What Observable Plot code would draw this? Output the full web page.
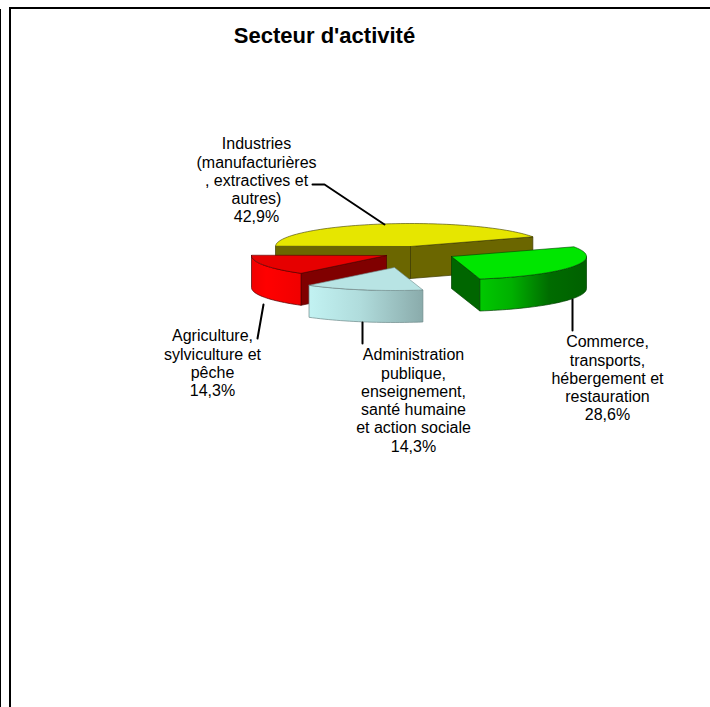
<!DOCTYPE html>
<html lang="fr">
<head>
<meta charset="utf-8">
<script src="https://cdn.jsdelivr.net/npm/d3@7"></script>
<script src="https://cdn.jsdelivr.net/npm/@observablehq/plot@0.6"></script>
<style>html,body{margin:0;padding:0;background:#fff}</style>
</head>
<body>
<script>
// Data
const categories = [
  "Industries\n(manufacturières\n, extractives et\nautres)",
  "Agriculture,\nsylviculture et\npêche",
  "Administration\npublique,\nenseignement,\nsanté humaine\net action sociale",
  "Commerce,\ntransports,\nhébergement et\nrestauration"
];
const shares = [42.9, 14.3, 14.3, 28.6];
const chartTitle = "Secteur d'activité";

// Styles
const topColors  = ["#e6e600", "#e60000", "#b8e4e4", "#00e600"];
const sideColors = ["#6b6600", "url(#sideRed)", "url(#sideBlue)", "url(#sideGreen)"];
const wallColors = ["#6b6600", "#800000", "#8fb0b0", "#006600"];
const edgeColors = ["#3c3a00", "#500000", "#6f8a8a", "#004000"];

// Layout of the exploded pie (in picture units)
const centres = [[410, 246], [386, 255], [394, 267], [451, 256]];
const labelAnchors = [[256, 136], [212, 328], [413, 347], [607, 334]];
const leaders = [
  [[312, 184], [324, 184], [384, 224]],
  [[263, 304], [257, 338]],
  [[362, 322], [362, 343]],
  [[572, 299], [572, 330]]
];
const rx = 135, ry = 23, depth = 32, startAngle = 25;

const rad = d => d * Math.PI / 180;
const onRim = (c, a, dy = 0) => ({x: c[0] + rx * Math.cos(rad(a)), y: c[1] - ry * Math.sin(rad(a)) + dy});
const arcPts = (c, a0, a1, dy = 0) => {
  const n = Math.max(2, Math.ceil(Math.abs(a1 - a0) / 2));
  return d3.range(n + 1).map(i => onRim(c, a0 + (a1 - a0) * i / n, dy));
};
const close = pts => [...pts, pts[0]];

const total = d3.sum(shares);
let running = startAngle;
const sliceMarks = [];
const wallsAndSides = (i, a0, a1) => {
  const c = centres[i];
  const apex = {x: c[0], y: c[1]}, apexLow = {x: c[0], y: c[1] + depth};
  const out = [];
  const wall = a => {
    const rim = onRim(c, a), low = onRim(c, a, depth);
    out.push(Plot.line(close([apex, rim, low, apexLow]), {x: "x", y: "y", fill: wallColors[i], stroke: edgeColors[i], strokeWidth: 0.7}));
  };
  if (Math.cos(rad(a0)) > 0) wall(a0);
  if (Math.cos(rad(a1)) < 0) wall(a1);
  // Visible outer rim: the part on the front half of the ellipse
  const s = Math.max(a0, 180), e = Math.min(a1, 360);
  if (e > s) {
    const pts = [...arcPts(c, s, e), ...arcPts(c, e, s, depth)];
    out.push(Plot.line(close(pts), {x: "x", y: "y", fill: sideColors[i], stroke: edgeColors[i], strokeWidth: 0.7}));
  }
  const top = [{x: c[0], y: c[1]}, ...arcPts(c, a0, a1)];
  out.push(Plot.line(close(top), {x: "x", y: "y", fill: topColors[i], stroke: edgeColors[i], strokeWidth: 0.6}));
  return out;
};
const spans = shares.map(v => { const a0 = running; running += v / total * 360; return [a0, running]; });
for (const i of [0, 3, 1, 2]) sliceMarks.push(...wallsAndSides(i, spans[i][0], spans[i][1]));

const fmt = v => v.toFixed(1).replace(".", ",") + "%";
const labels = categories.map((c, i) => ({x: labelAnchors[i][0], y: labelAnchors[i][1], text: c + "\n" + fmt(shares[i])}));

const defs = () => {
  const g = d3.create("svg:defs");
  const grad = (id, stops) => {
    const lg = g.append("linearGradient").attr("id", id);
    stops.forEach(([o, col]) => lg.append("stop").attr("offset", o).attr("stop-color", col));
  };
  grad("sideRed", [[0, "#f00000"], [0.3, "#ff0000"], [1, "#f00000"]]);
  grad("sideBlue", [[0, "#c2f2f2"], [0.45, "#b0dcdc"], [1, "#8aabab"]]);
  grad("sideGreen", [[0, "#00c800"], [0.3, "#00b000"], [0.65, "#006c00"], [1, "#006000"]]);
  return g.node();
};

const chart = Plot.plot({
  width: 710,
  height: 707,
  margin: 0,
  x: {domain: [0, 710], range: [0, 710], axis: null},
  y: {domain: [0, 707], range: [0, 707], axis: null},
  marks: [
    defs,
    // Frame
    Plot.ruleX([0], {y1: 9, y2: 707, stroke: "#000", strokeWidth: 1}),
    Plot.ruleX([9.5], {y1: 7, y2: 707, stroke: "#000", strokeWidth: 2}),
    Plot.ruleY([7.5], {x1: 9, x2: 710, stroke: "#000", strokeWidth: 2}),
    // Pie
    ...sliceMarks,
    // Leaders
    ...leaders.map(l => Plot.line(l, {x: d => d[0], y: d => d[1], stroke: "#000", strokeWidth: 2, strokeLinejoin: "miter"})),
    // Labels
    Plot.text(labels, {x: "x", y: "y", text: "text", textAnchor: "middle", lineAnchor: "top", lineHeight: 1.14, fontSize: 16, fontFamily: "Liberation Sans, Arial, sans-serif", fill: "#000"}),
    Plot.text([chartTitle], {x: [324], y: [35], text: d => d, textAnchor: "middle", lineAnchor: "middle", fontSize: 22, fontWeight: "bold", fontFamily: "Liberation Sans, Arial, sans-serif", fill: "#000"})
  ]
});
document.body.appendChild(chart);
</script>
</body>
</html>
